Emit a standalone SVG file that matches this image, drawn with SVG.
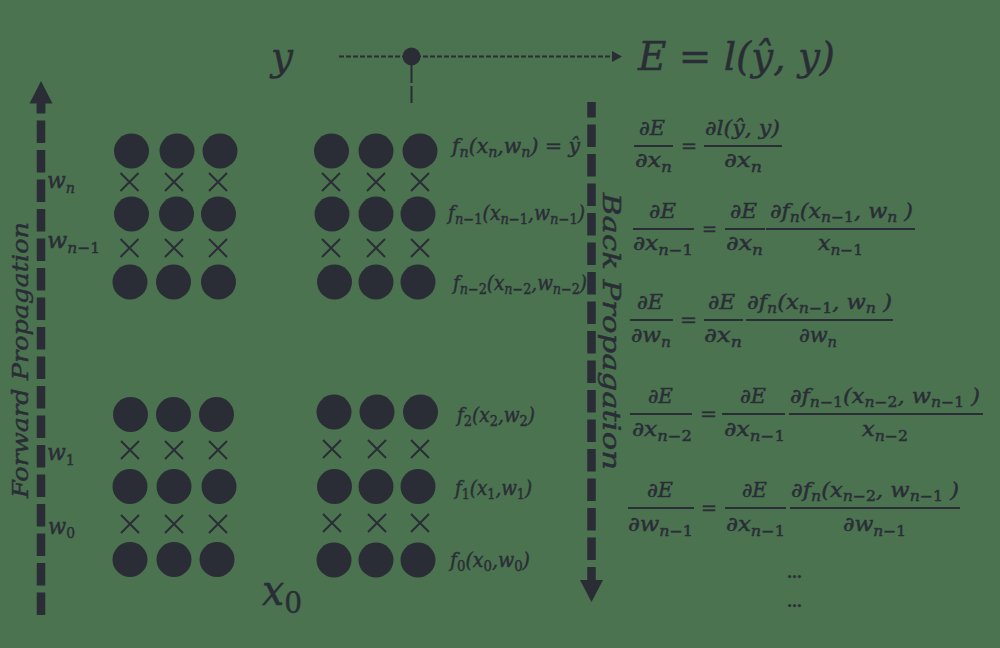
<svg xmlns="http://www.w3.org/2000/svg" xmlns:xlink="http://www.w3.org/1999/xlink" width="1000" height="648" viewBox="0 0 1000 648">
<defs>
<style>
.bg{fill:#4b7350}
.d{fill:#2a2d36}
.m{font-family:'DejaVu Serif','Liberation Serif',serif;font-style:italic;fill:#2a2d36;font-size:20px;stroke:#2a2d36;stroke-width:0.45px}
.u{font-style:normal}
.s{font-size:14px}
.bar{stroke:#2a2d36;stroke-width:2.2;fill:none}
.x{stroke:#2a2d36;stroke-width:2;fill:none}
.dash{stroke:#2a2d36;stroke-width:8.5;fill:none;stroke-dasharray:22.5 7}
</style>
<g id="cross"><path class="x" d="M-9,-9 L9,9 M9,-9 L-9,9"/></g>
</defs>
<rect class="bg" x="0" y="0" width="1000" height="648"/>

<g id="connectors">
  <path d="M339,56.5 H613" stroke="#2a2d36" stroke-width="2" stroke-dasharray="5 2" fill="none"/>
  <polygon class="d" points="612,51 622,56.5 612,62"/>
  <path d="M411.5,64 V103" stroke="#2a2d36" stroke-width="2" stroke-dasharray="19 3" fill="none"/>
  <circle class="d" cx="411.5" cy="56.5" r="9"/>
  <path class="dash" d="M41,615 V104"/>
  <polygon class="d" points="41,81 52.5,103.5 29.5,103.5"/>
  <rect class="d" x="36.75" y="102" width="8.5" height="11"/>
  <path class="dash" d="M591.5,102 V581" stroke-dashoffset="7"/>
  <polygon class="d" points="580,580 603,580 591.5,602"/>
</g>

<g id="layer-top-left">
  <circle class="d" cx="131.5" cy="151" r="17.5"/><circle class="d" cx="177" cy="151" r="17.5"/><circle class="d" cx="220" cy="151" r="17.5"/>
  <use xlink:href="#cross" x="129.5" y="182"/><use xlink:href="#cross" x="174" y="182"/><use xlink:href="#cross" x="218" y="182"/>
  <circle class="d" cx="131.5" cy="214" r="17.5"/><circle class="d" cx="176.5" cy="214" r="17.5"/><circle class="d" cx="218.5" cy="214" r="17.5"/>
  <use xlink:href="#cross" x="129.5" y="248"/><use xlink:href="#cross" x="174" y="248"/><use xlink:href="#cross" x="218" y="248"/>
  <circle class="d" cx="130" cy="282" r="17.5"/><circle class="d" cx="173.5" cy="282" r="17.5"/><circle class="d" cx="218.5" cy="282" r="17.5"/>
</g>

<g id="layer-top-right">
  <circle class="d" cx="331.5" cy="151" r="17.5"/><circle class="d" cx="376" cy="151" r="17.5"/><circle class="d" cx="420" cy="151" r="17.5"/>
  <use xlink:href="#cross" x="331" y="182"/><use xlink:href="#cross" x="376" y="182"/><use xlink:href="#cross" x="420" y="182"/>
  <circle class="d" cx="332" cy="214" r="17.5"/><circle class="d" cx="376" cy="214" r="17.5"/><circle class="d" cx="418" cy="214" r="17.5"/>
  <use xlink:href="#cross" x="331" y="248"/><use xlink:href="#cross" x="376" y="248"/><use xlink:href="#cross" x="420" y="248"/>
  <circle class="d" cx="334.5" cy="282" r="17.5"/><circle class="d" cx="376" cy="282" r="17.5"/><circle class="d" cx="418" cy="282" r="17.5"/>
</g>

<g id="layer-bottom-left">
  <circle class="d" cx="130.5" cy="414.5" r="17.5"/><circle class="d" cx="173.5" cy="414.5" r="17.5"/><circle class="d" cx="216.5" cy="414.5" r="17.5"/>
  <use xlink:href="#cross" x="130" y="450"/><use xlink:href="#cross" x="174" y="450"/><use xlink:href="#cross" x="218" y="450"/>
  <circle class="d" cx="130" cy="486.5" r="17.5"/><circle class="d" cx="174" cy="486.5" r="17.5"/><circle class="d" cx="219" cy="486.5" r="17.5"/>
  <use xlink:href="#cross" x="130" y="524"/><use xlink:href="#cross" x="174" y="524"/><use xlink:href="#cross" x="218" y="524"/>
  <circle class="d" cx="130" cy="559.5" r="17.5"/><circle class="d" cx="174" cy="559.5" r="17.5"/><circle class="d" cx="217" cy="559.5" r="17.5"/>
</g>

<g id="layer-bottom-right">
  <circle class="d" cx="334" cy="412" r="17.5"/><circle class="d" cx="377" cy="412" r="17.5"/><circle class="d" cx="420.5" cy="412" r="17.5"/>
  <use xlink:href="#cross" x="332" y="449"/><use xlink:href="#cross" x="377" y="449"/><use xlink:href="#cross" x="420" y="449"/>
  <circle class="d" cx="334.5" cy="486.5" r="17.5"/><circle class="d" cx="376" cy="486.5" r="17.5"/><circle class="d" cx="418" cy="486.5" r="17.5"/>
  <use xlink:href="#cross" x="332" y="523"/><use xlink:href="#cross" x="377" y="523"/><use xlink:href="#cross" x="420" y="523"/>
  <circle class="d" cx="334" cy="560" r="17.5"/><circle class="d" cx="376" cy="560" r="17.5"/><circle class="d" cx="418" cy="560" r="17.5"/>
</g>

<g id="labels">
  <text class="m" x="271" y="70" style="font-size:40px" textLength="22" lengthAdjust="spacingAndGlyphs">y</text>
  <text class="m" x="638" y="70" style="font-size:40px" textLength="197" lengthAdjust="spacingAndGlyphs">E <tspan class="u">=</tspan> l(ŷ, y)</text>
  <text class="m" x="262" y="605" style="font-size:42px" textLength="40" lengthAdjust="spacingAndGlyphs">x<tspan class="u" style="font-size:30px" dy="8">0</tspan></text>

  <text class="m" style="font-size:23px" transform="translate(28,498) rotate(-90)" textLength="276" lengthAdjust="spacingAndGlyphs">Forward Propagation</text>
  <text class="m" style="font-size:24px" transform="translate(603,193) rotate(90)" textLength="277" lengthAdjust="spacingAndGlyphs">Back Propagation</text>

  <text class="m" x="47" y="188" style="font-size:23px" textLength="28" lengthAdjust="spacingAndGlyphs">w<tspan style="font-size:15px" dy="5">n</tspan></text>
  <text class="m" x="47" y="248" style="font-size:23px" textLength="53" lengthAdjust="spacingAndGlyphs">w<tspan style="font-size:15px" dy="5">n<tspan class="u">−1</tspan></tspan></text>
  <text class="m" x="47" y="460" style="font-size:23px" textLength="28" lengthAdjust="spacingAndGlyphs">w<tspan class="u" style="font-size:15px" dy="5">1</tspan></text>
  <text class="m" x="48" y="534" style="font-size:23px" textLength="27" lengthAdjust="spacingAndGlyphs">w<tspan class="u" style="font-size:15px" dy="4">0</tspan></text>

  <text class="m" x="452" y="153" textLength="128" lengthAdjust="spacingAndGlyphs">f<tspan class="s" dy="4">n</tspan><tspan dy="-4">(x</tspan><tspan class="s" dy="4">n</tspan><tspan dy="-4">,w</tspan><tspan class="s" dy="4">n</tspan><tspan dy="-4">) </tspan><tspan class="u">=</tspan> ŷ</text>
  <text class="m" x="448" y="220" textLength="137" lengthAdjust="spacingAndGlyphs">f<tspan class="s" dy="4">n<tspan class="u">−1</tspan></tspan><tspan dy="-4">(x</tspan><tspan class="s" dy="4">n<tspan class="u">−1</tspan></tspan><tspan dy="-4">,w</tspan><tspan class="s" dy="4">n<tspan class="u">−1</tspan></tspan><tspan dy="-4">)</tspan></text>
  <text class="m" x="453" y="290" textLength="134" lengthAdjust="spacingAndGlyphs">f<tspan class="s" dy="4">n<tspan class="u">−2</tspan></tspan><tspan dy="-4">(x</tspan><tspan class="s" dy="4">n<tspan class="u">−2</tspan></tspan><tspan dy="-4">,w</tspan><tspan class="s" dy="4">n<tspan class="u">−2</tspan></tspan><tspan dy="-4">)</tspan></text>
  <text class="m" x="457" y="422" textLength="78" lengthAdjust="spacingAndGlyphs">f<tspan class="s u" dy="4">2</tspan><tspan dy="-4">(x</tspan><tspan class="s u" dy="4">2</tspan><tspan dy="-4">,w</tspan><tspan class="s u" dy="4">2</tspan><tspan dy="-4">)</tspan></text>
  <text class="m" x="455" y="495" textLength="77" lengthAdjust="spacingAndGlyphs">f<tspan class="s u" dy="4">1</tspan><tspan dy="-4">(x</tspan><tspan class="s u" dy="4">1</tspan><tspan dy="-4">,w</tspan><tspan class="s u" dy="4">1</tspan><tspan dy="-4">)</tspan></text>
  <text class="m" x="450" y="567" textLength="80" lengthAdjust="spacingAndGlyphs">f<tspan class="s u" dy="4">0</tspan><tspan dy="-4">(x</tspan><tspan class="s u" dy="4">0</tspan><tspan dy="-4">,w</tspan><tspan class="s u" dy="4">0</tspan><tspan dy="-4">)</tspan></text>
</g>

<g id="equations">
  <path class="bar" d="M634,146 H673 M704,146 H782"/>
  <text class="m" x="639" y="135" textLength="26" lengthAdjust="spacingAndGlyphs">∂E</text>
  <text class="m" x="635" y="167" textLength="37" lengthAdjust="spacingAndGlyphs">∂x<tspan class="s" dy="5">n</tspan></text>
  <text class="m u" x="681" y="153" textLength="16" lengthAdjust="spacingAndGlyphs">=</text>
  <text class="m" x="705" y="135" textLength="75" lengthAdjust="spacingAndGlyphs">∂l(ŷ, y)</text>
  <text class="m" x="724" y="167" textLength="38" lengthAdjust="spacingAndGlyphs">∂x<tspan class="s" dy="5">n</tspan></text>

  <path class="bar" d="M633,229 H694 M725,229 H765 M766,229 H915"/>
  <text class="m" x="649" y="218" textLength="27" lengthAdjust="spacingAndGlyphs">∂E</text>
  <text class="m" x="633" y="250" textLength="60" lengthAdjust="spacingAndGlyphs">∂x<tspan class="s" dy="5">n<tspan class="u">−1</tspan></tspan></text>
  <text class="m u" x="702" y="236" textLength="15" lengthAdjust="spacingAndGlyphs">=</text>
  <text class="m" x="730" y="218" textLength="27" lengthAdjust="spacingAndGlyphs">∂E</text>
  <text class="m" x="726" y="250" textLength="37" lengthAdjust="spacingAndGlyphs">∂x<tspan class="s" dy="5">n</tspan></text>
  <text class="m" x="770" y="218" textLength="143" lengthAdjust="spacingAndGlyphs">∂f<tspan class="s" dy="4">n</tspan><tspan dy="-4">(x</tspan><tspan class="s" dy="4">n<tspan class="u">−1</tspan></tspan><tspan dy="-4">, w</tspan><tspan class="s" dy="4">n</tspan><tspan dy="-4"> )</tspan></text>
  <text class="m" x="818" y="250" textLength="45" lengthAdjust="spacingAndGlyphs">x<tspan class="s" dy="5">n<tspan class="u">−1</tspan></tspan></text>

  <path class="bar" d="M630,320 H673 M704,320 H743 M746,320 H893"/>
  <text class="m" x="637" y="309" textLength="26" lengthAdjust="spacingAndGlyphs">∂E</text>
  <text class="m" x="631" y="342" textLength="40" lengthAdjust="spacingAndGlyphs">∂w<tspan class="s" dy="5">n</tspan></text>
  <text class="m u" x="680" y="327" textLength="17" lengthAdjust="spacingAndGlyphs">=</text>
  <text class="m" x="708" y="309" textLength="27" lengthAdjust="spacingAndGlyphs">∂E</text>
  <text class="m" x="704" y="342" textLength="38" lengthAdjust="spacingAndGlyphs">∂x<tspan class="s" dy="5">n</tspan></text>
  <text class="m" x="747" y="309" textLength="145" lengthAdjust="spacingAndGlyphs">∂f<tspan class="s" dy="4">n</tspan><tspan dy="-4">(x</tspan><tspan class="s" dy="4">n<tspan class="u">−1</tspan></tspan><tspan dy="-4">, w</tspan><tspan class="s" dy="4">n</tspan><tspan dy="-4"> )</tspan></text>
  <text class="m" x="799" y="342" textLength="38" lengthAdjust="spacingAndGlyphs">∂w<tspan class="s" dy="5">n</tspan></text>

  <path class="bar" d="M630,414 H692 M722,414 H785 M789,414 H983"/>
  <text class="m" x="648" y="403" textLength="25" lengthAdjust="spacingAndGlyphs">∂E</text>
  <text class="m" x="632" y="436" textLength="60" lengthAdjust="spacingAndGlyphs">∂x<tspan class="s" dy="5">n<tspan class="u">−2</tspan></tspan></text>
  <text class="m u" x="700" y="421" textLength="17" lengthAdjust="spacingAndGlyphs">=</text>
  <text class="m" x="740" y="403" textLength="26" lengthAdjust="spacingAndGlyphs">∂E</text>
  <text class="m" x="724" y="436" textLength="61" lengthAdjust="spacingAndGlyphs">∂x<tspan class="s" dy="5">n<tspan class="u">−1</tspan></tspan></text>
  <text class="m" x="790" y="403" textLength="190" lengthAdjust="spacingAndGlyphs">∂f<tspan class="s" dy="4">n<tspan class="u">−1</tspan></tspan><tspan dy="-4">(x</tspan><tspan class="s" dy="4">n<tspan class="u">−2</tspan></tspan><tspan dy="-4">, w</tspan><tspan class="s" dy="4">n<tspan class="u">−1</tspan></tspan><tspan dy="-4"> )</tspan></text>
  <text class="m" x="862" y="436" textLength="46" lengthAdjust="spacingAndGlyphs">x<tspan class="s" dy="5">n<tspan class="u">−2</tspan></tspan></text>

  <path class="bar" d="M628,508 H694 M725,508 H786 M790,508 H960"/>
  <text class="m" x="647" y="497" textLength="26" lengthAdjust="spacingAndGlyphs">∂E</text>
  <text class="m" x="628" y="531" textLength="65" lengthAdjust="spacingAndGlyphs">∂w<tspan class="s" dy="5">n<tspan class="u">−1</tspan></tspan></text>
  <text class="m u" x="701" y="515" textLength="16" lengthAdjust="spacingAndGlyphs">=</text>
  <text class="m" x="742" y="497" textLength="25" lengthAdjust="spacingAndGlyphs">∂E</text>
  <text class="m" x="726" y="531" textLength="59" lengthAdjust="spacingAndGlyphs">∂x<tspan class="s" dy="5">n<tspan class="u">−1</tspan></tspan></text>
  <text class="m" x="791" y="497" textLength="168" lengthAdjust="spacingAndGlyphs">∂f<tspan class="s" dy="4">n</tspan><tspan dy="-4">(x</tspan><tspan class="s" dy="4">n<tspan class="u">−2</tspan></tspan><tspan dy="-4">, w</tspan><tspan class="s" dy="4">n<tspan class="u">−1</tspan></tspan><tspan dy="-4"> )</tspan></text>
  <text class="m" x="843" y="531" textLength="63" lengthAdjust="spacingAndGlyphs">∂w<tspan class="s" dy="5">n<tspan class="u">−1</tspan></tspan></text>

  <text class="m u" x="787" y="578" style="font-size:14px;font-weight:bold" textLength="15" lengthAdjust="spacingAndGlyphs">…</text>
  <text class="m u" x="787" y="607" style="font-size:14px;font-weight:bold" textLength="15" lengthAdjust="spacingAndGlyphs">…</text>
</g>
</svg>
